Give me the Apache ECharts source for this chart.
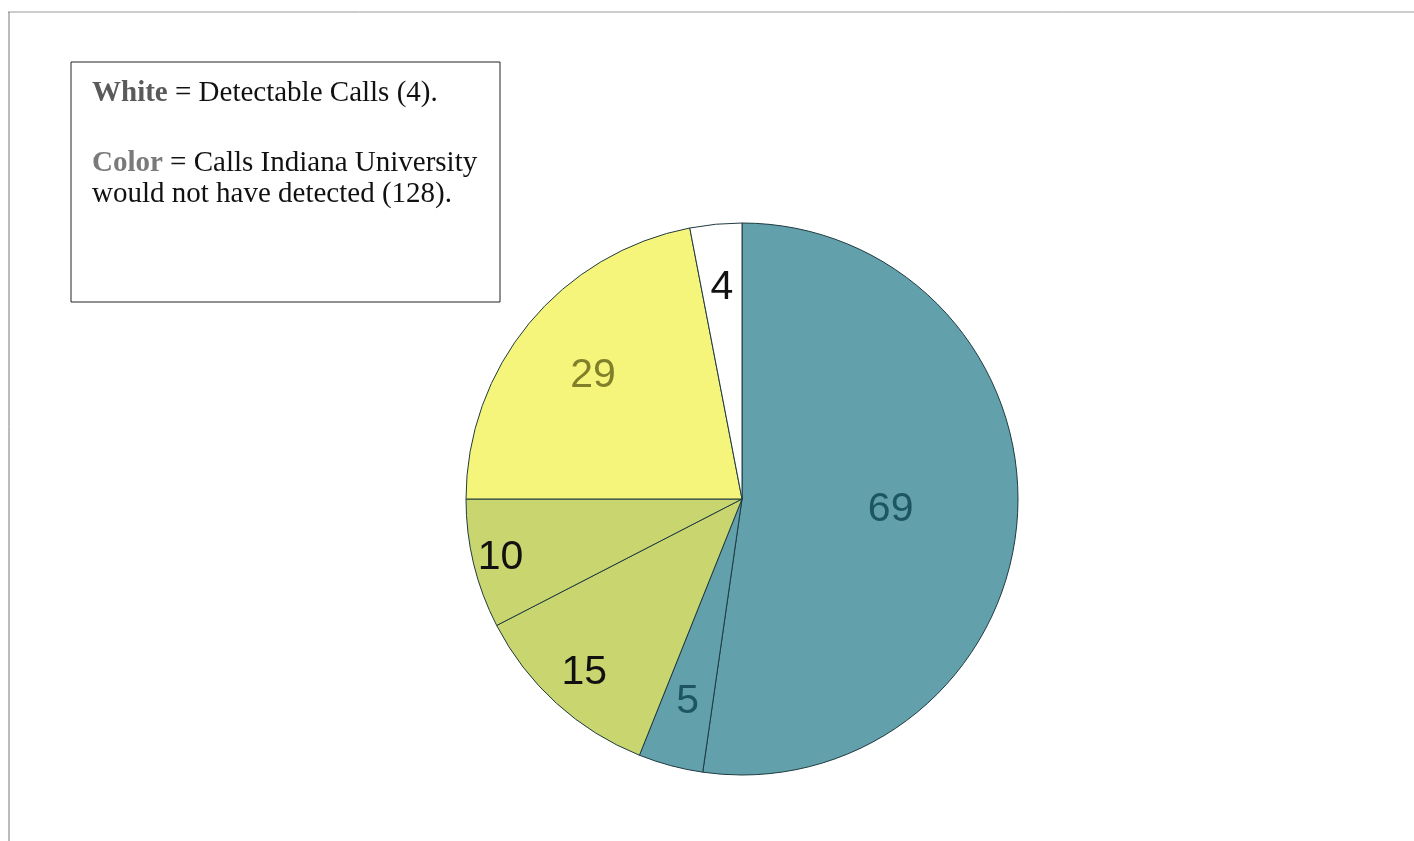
<!DOCTYPE html>
<html>
<head>
<meta charset="utf-8">
<script src="https://cdn.jsdelivr.net/npm/echarts@6/dist/echarts.min.js"></script>
<style>
  html, body { margin: 0; padding: 0; background: #fff; }
  #main { width: 1414px; height: 841px; }
</style>
</head>
<body>
<div id="main"></div>
<script>
// slices clockwise from 12 o'clock
const categories = ['Undetected A', 'Undetected B', 'Undetected C', 'Undetected D', 'Undetected E', 'Detectable']
const values = [69, 5, 15, 10, 29, 4]
const colors = ['#62a0ab', '#62a0ab', '#c9d66f', '#c9d66f', '#f6f57b', '#ffffff']
const labelColors = ['#1d5563', '#1d5563', '#111', '#111', '#80802a', '#111']
// how far out along the slice each number sits (fraction of radius)
const labelRadius = [0.54, 0.76, 0.85, 0.9, 0.7, 0.77]

const chart = echarts.init(document.getElementById('main'))

function placeLabel (params) {
  const layout = chart.getModel().getSeriesByIndex(0).getData().getItemLayout(params.dataIndex)
  const mid = (layout.startAngle + layout.endAngle) / 2
  const rr = layout.r * labelRadius[params.dataIndex]
  return {
    x: layout.cx + rr * Math.cos(mid),
    y: layout.cy + rr * Math.sin(mid),
    align: 'center',
    verticalAlign: 'middle'
  }
}

const serif = '"Liberation Serif", "Times New Roman", serif'

const option = {
  animation: false,
  graphic: [
    { type: 'line', shape: { x1: 8, y1: 12, x2: 1414, y2: 12 }, style: { stroke: '#9a9a9a', lineWidth: 1 } },
    { type: 'line', shape: { x1: 9, y1: 12, x2: 9, y2: 841 }, style: { stroke: '#777', lineWidth: 1 } },
    {
      type: 'rect',
      shape: { x: 71, y: 62, width: 429, height: 240 },
      style: { fill: '#fff', stroke: '#222', lineWidth: 1 }
    },
    {
      type: 'text',
      left: 92,
      top: 79,
      style: {
        text: '{w|White} = Detectable Calls (4).',
        font: '29px ' + serif,
        fill: '#111',
        rich: {
          w: { font: 'bold 29px ' + serif, fill: '#5a5a5a' }
        }
      }
    },
    {
      type: 'text',
      left: 92,
      top: 148,
      style: {
        text: '{c|Color} = Calls Indiana University\nwould not have detected (128).',
        font: '29px ' + serif,
        fill: '#111',
        lineHeight: 31,
        rich: {
          c: { font: 'bold 29px ' + serif, fill: '#7a7a7a', lineHeight: 31 }
        }
      }
    }
  ],
  series: [{
    type: 'pie',
    center: [742, 499],
    radius: 276,
    startAngle: 90,
    clockwise: true,
    silent: true,
    label: {
      show: true,
      position: 'inside',
      formatter: '{c}',
      fontFamily: '"Liberation Sans", Arial, sans-serif',
      fontSize: 41
    },
    labelLine: { show: false },
    labelLayout: placeLabel,
    data: categories.map((name, i) => ({
      name,
      value: values[i],
      itemStyle: { color: colors[i], borderColor: '#1f3a40', borderWidth: 1 },
      label: { color: labelColors[i] }
    }))
  }]
}

chart.setOption(option)
</script>
</body>
</html>
